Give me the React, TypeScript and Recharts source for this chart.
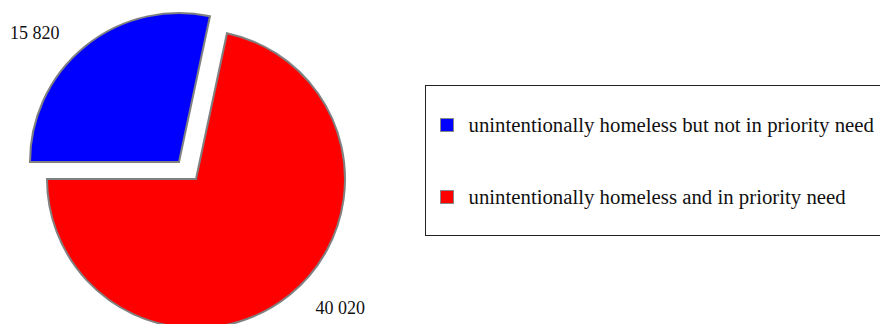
import { PieChart, Pie, Cell, Legend } from 'recharts';

const categories = [
  'unintentionally homeless but not in priority need',
  'unintentionally homeless and in priority need',
];
const counts = [15820, 40020];
const colors = ['#0000ff', '#ff0000'];

const data = categories.map((name, i) => ({ name, value: counts[i] }));

const RAD = Math.PI / 180;
const FONT = '"Liberation Serif", "Times New Roman", serif';

const fmt = (v: number) => String(v).replace(/\B(?=(\d{3})+(?!\d))/g, ' ');

// each pie only shows one slice, so the exploded slice sits on its own centre
const makeLabel = (show: number) => (props: any) => {
  const { cx, cy, midAngle, outerRadius, value, index } = props;
  if (index !== show) return null;
  const r = outerRadius + 17;
  const right = Math.cos(-midAngle * RAD) > 0;
  const x = cx + r * Math.cos(-midAngle * RAD) + (right ? 15 : -15);
  const y = cy + r * Math.sin(-midAngle * RAD);
  return (
    <text
      x={x}
      y={y}
      textAnchor={right ? 'start' : 'end'}
      dominantBaseline="central"
      fill="#111"
      fontSize={18}
      fontFamily={FONT}
    >
      {fmt(value)}
    </text>
  );
};

function LegendBox() {
  return (
    <div
      style={{
        position: 'relative',
        width: 480,
        height: 149,
        border: '1.5px solid #222',
        background: '#fff',
        fontFamily: FONT,
        fontSize: 20.8,
        color: '#111',
      }}
    >
      {categories.map((name, i) => (
        <div
          key={name}
          style={{
            position: 'absolute',
            left: 14,
            top: 26 + i * 71.5,
            height: 26,
            display: 'flex',
            alignItems: 'center',
            whiteSpace: 'nowrap',
          }}
        >
          <span
            style={{
              display: 'inline-block',
              width: 12,
              height: 12,
              background: colors[i],
              border: '1px solid #888',
              marginRight: 15,
            }}
          />
          {name}
        </div>
      ))}
    </div>
  );
}

export default function App() {
  return (
    <div style={{ position: 'absolute', left: 0, top: 0, width: 880, height: 324, overflow: 'hidden', background: '#fff' }}>
      <PieChart width={880} height={324} margin={{ top: 0, right: 0, bottom: 0, left: 0 }}>
        <Pie
          data={data}
          dataKey="value"
          nameKey="name"
          cx={179}
          cy={162}
          outerRadius={149}
          startAngle={180}
          endAngle={-180}
          stroke="#808080"
          strokeWidth={2}
          labelLine={false}
          label={makeLabel(0)}
          legendType="none"
          isAnimationActive={false}
        >
          {data.map((d, i) => (
            <Cell key={d.name} fill={i === 0 ? colors[i] : 'none'} stroke={i === 0 ? '#808080' : 'none'} />
          ))}
        </Pie>
        <Pie
          data={data}
          dataKey="value"
          nameKey="name"
          cx={196}
          cy={179}
          outerRadius={149}
          startAngle={180}
          endAngle={-180}
          stroke="#808080"
          strokeWidth={2}
          labelLine={false}
          label={makeLabel(1)}
          legendType="none"
          isAnimationActive={false}
        >
          {data.map((d, i) => (
            <Cell key={d.name} fill={i === 1 ? colors[i] : 'none'} stroke={i === 1 ? '#808080' : 'none'} />
          ))}
        </Pie>
        <Legend
          content={() => <LegendBox />}
          wrapperStyle={{ position: 'absolute', left: 424.5, top: 85, width: 484, height: 152 }}
        />
      </PieChart>
    </div>
  );
}
